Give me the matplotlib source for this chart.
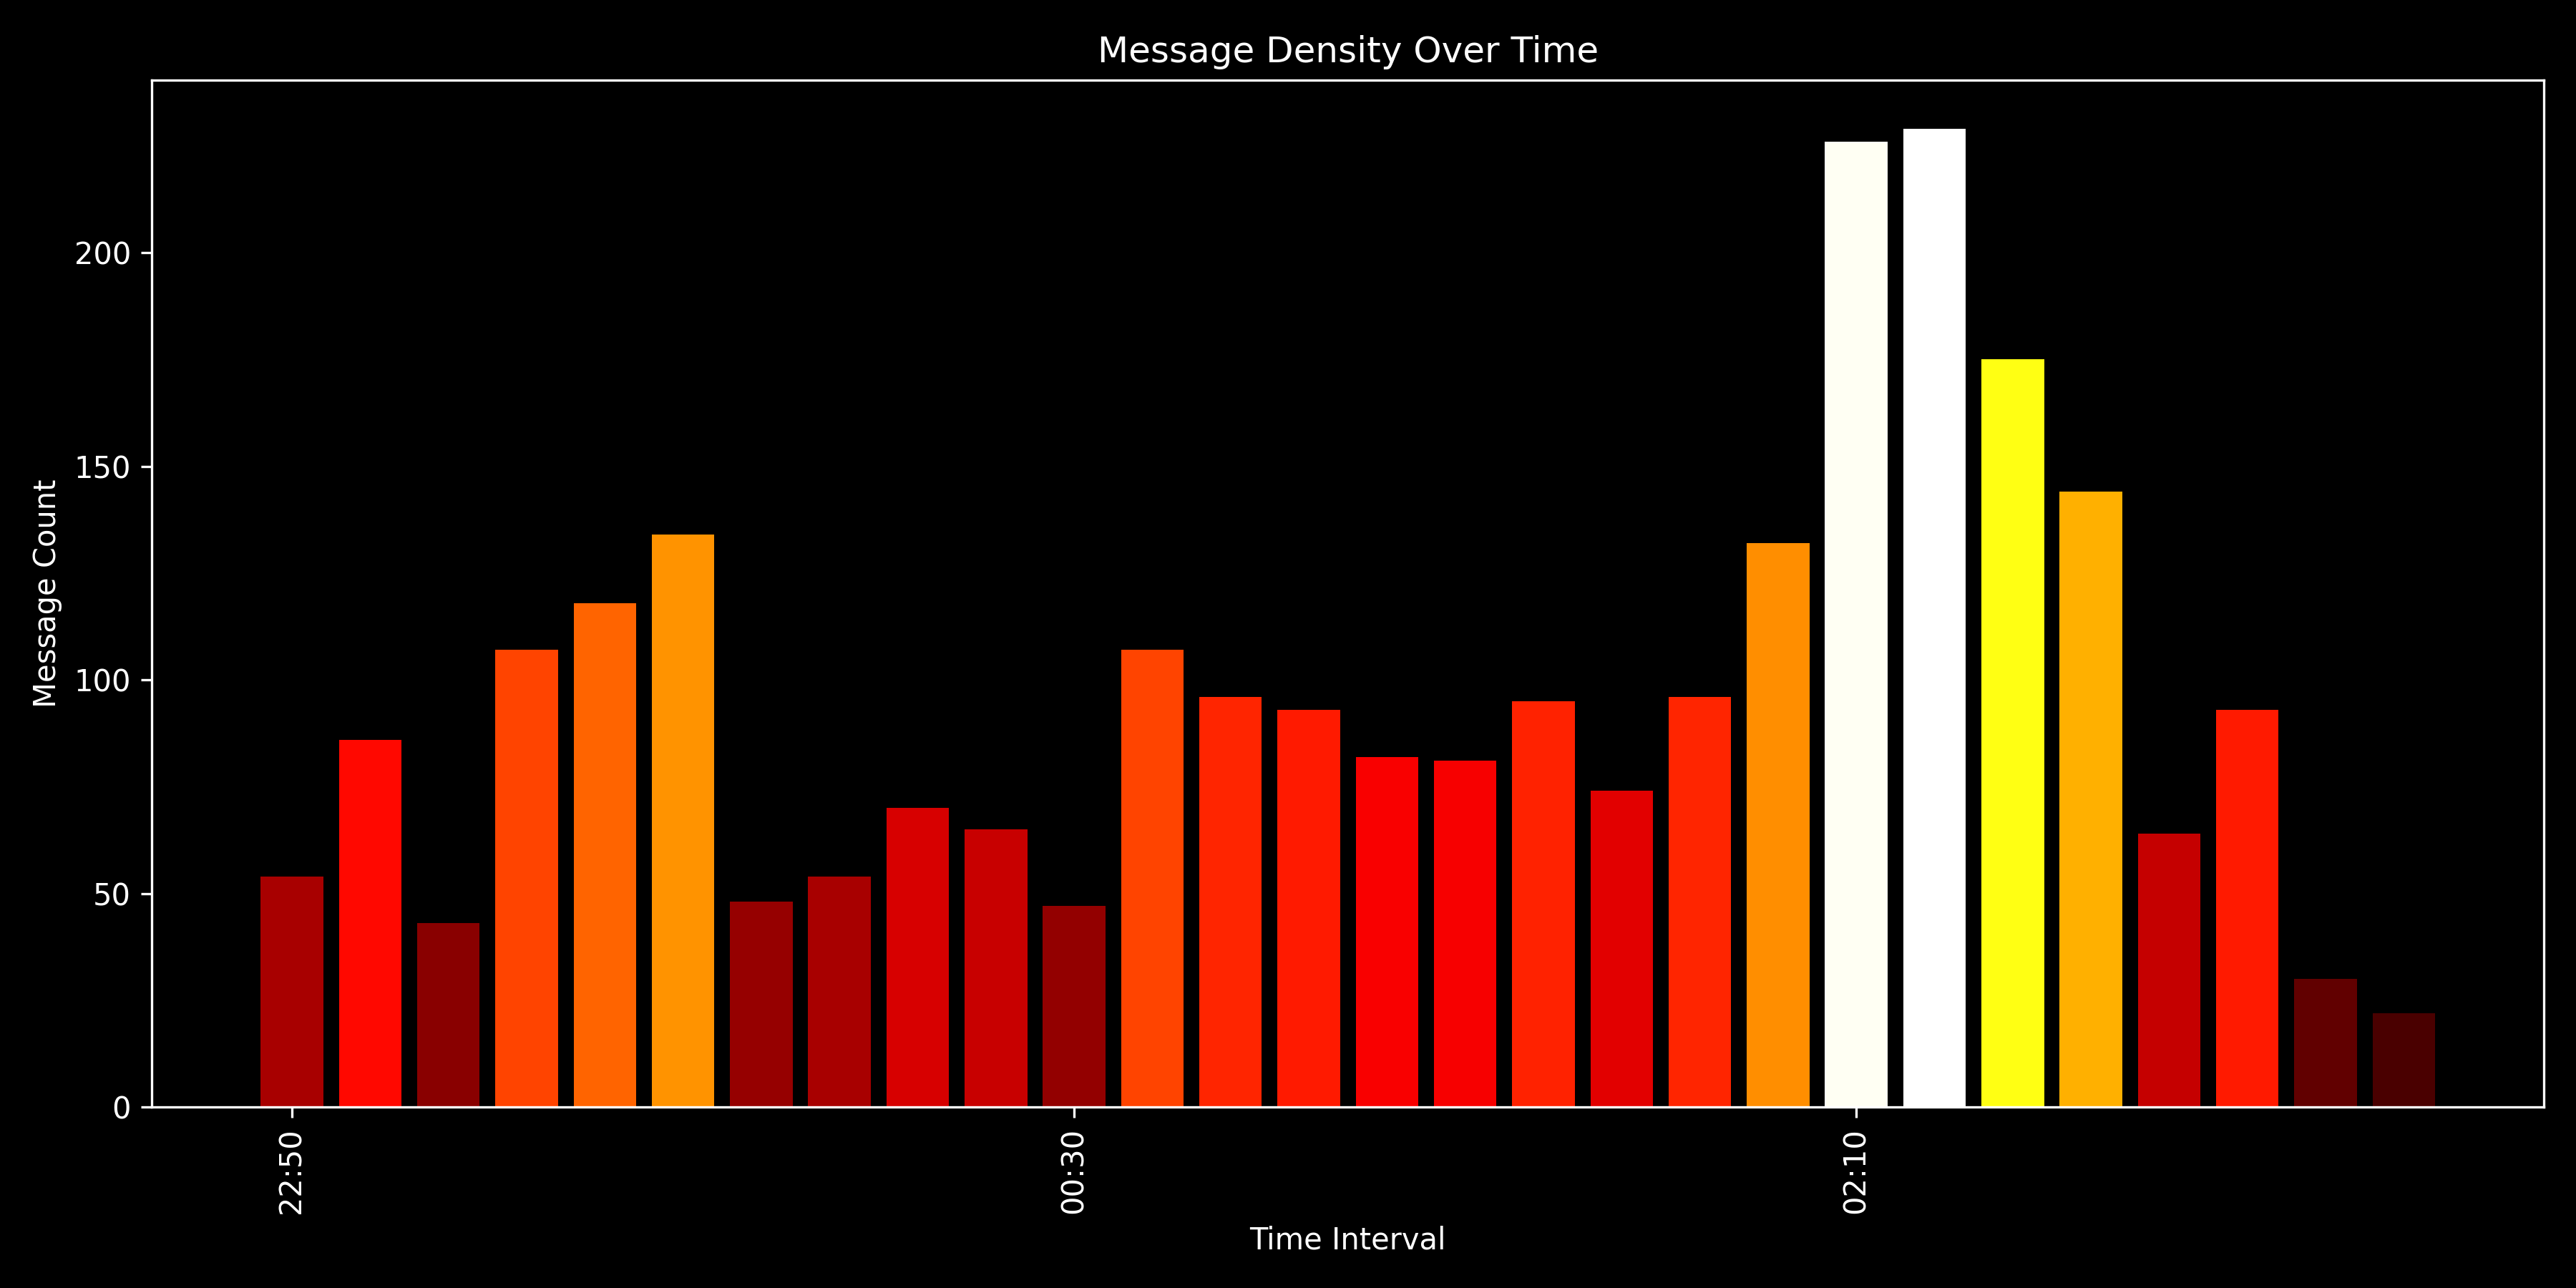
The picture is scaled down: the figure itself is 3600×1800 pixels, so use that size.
import matplotlib
matplotlib.use("Agg")
import matplotlib.pyplot as plt
import numpy as np

plt.style.use("dark_background")

# Message counts per 10-minute interval, starting at 22:50
start_time = (22, 50)
counts = [54, 86, 43, 107, 118, 134, 48, 54, 70, 65,
          47, 107, 96, 93, 82, 81, 95, 74, 96, 132,
          226, 229, 175, 144, 64, 93, 30, 22]

# interval labels: 10-minute steps from the start time
intervals = []
h, m = start_time
for _ in counts:
    intervals.append(f"{h:02d}:{m:02d}")
    m += 10
    if m >= 60:
        m -= 60
        h = (h + 1) % 24

x = np.arange(len(counts))
vals = np.array(counts, dtype=float)
colors = plt.cm.hot(vals / vals.max())

fig, ax = plt.subplots(figsize=(12, 6), dpi=300)
ax.bar(x, counts, color=colors)
ax.set_title("Message Density Over Time")
ax.set_xlabel("Time Interval")
ax.set_ylabel("Message Count")
tick_pos = x[::10]
ax.set_xticks(tick_pos)
ax.set_xticklabels([intervals[i] for i in tick_pos], rotation=90)
fig.tight_layout()
fig.subplots_adjust(top=0.938)
fig.savefig("out.png", dpi=300)
